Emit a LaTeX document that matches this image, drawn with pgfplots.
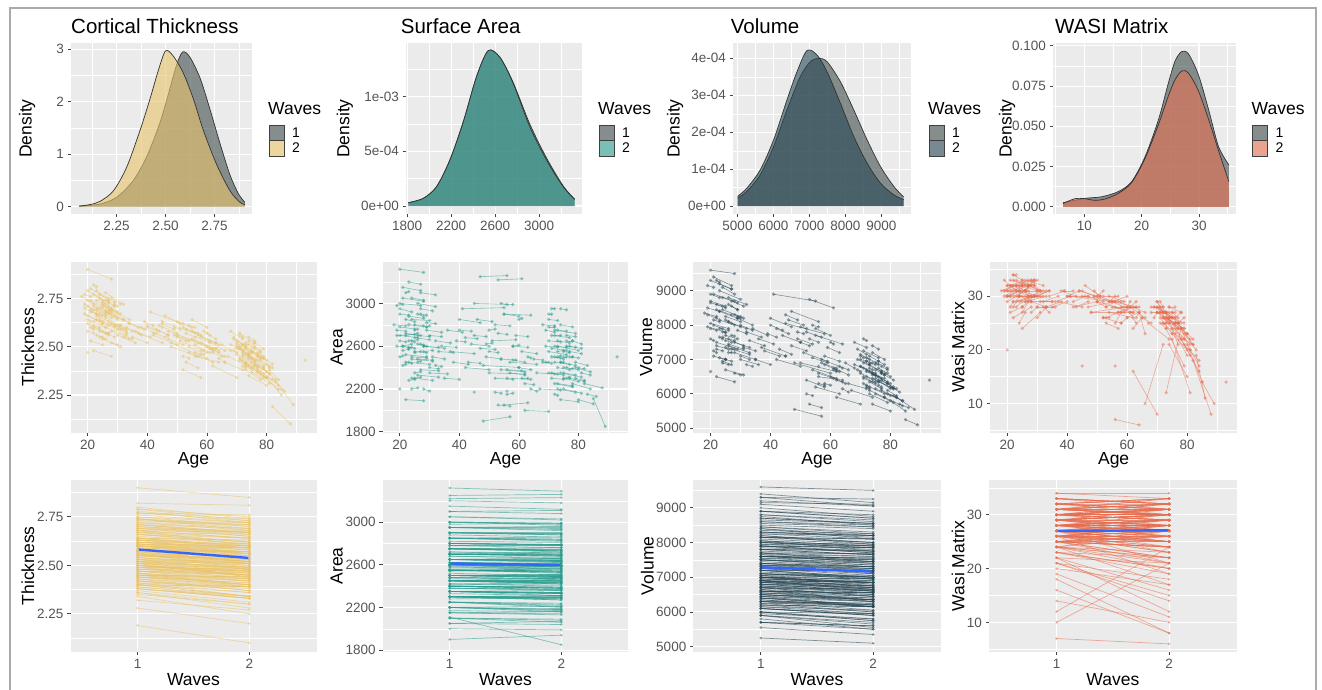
\documentclass[border=0pt]{standalone}
\usepackage{fontspec}
\setmainfont{Liberation Sans}
\usepackage{pgfplots}
\usepackage{pgfplotstable}
\pgfplotsset{compat=1.18}
\definecolor{panelbg}{HTML}{EBEBEB}
\definecolor{ticklab}{HTML}{555555}
\definecolor{tickc}{HTML}{444444}
\definecolor{cgold}{HTML}{E9C46A}
\definecolor{cteal}{HTML}{2A9D8F}
\definecolor{cslate}{HTML}{264653}
\definecolor{ccoral}{HTML}{E76F51}
\definecolor{cgrey}{HTML}{3F4B4B}
\definecolor{cblue}{HTML}{3366FF}
\definecolor{cframe}{HTML}{AAAAAA}

\pgfplotstableread{
a1 a2 t1 t2 s1 s2 v1 v2 w1 w2
19 22 2.72 2.69 2750 2740 8300 8200 31 32
20 23 2.66 2.64 2900 2890 8900 8800 30 31
21 27 2.80 2.74 3150 3120 9400 9150 33 32
22 24 2.61 2.60 2450 2440 7300 7250 28 30
23 26 2.70 2.67 2650 2660 7900 7850 32 31
24 28 2.75 2.70 3050 3030 9100 8900 29 30
25 27 2.58 2.57 2350 2360 7000 6950 27 29
26 30 2.68 2.64 2700 2690 8100 7950 31 33
20 21 2.64 2.63 2500 2510 7600 7550 30 30
22 25 2.77 2.74 2850 2830 8600 8500 34 33
24 26 2.55 2.54 2200 2210 6900 6850 25 27
27 31 2.71 2.67 2950 2930 8700 8550 32 31
28 33 2.62 2.58 2600 2590 7500 7350 29 28
20 28 2.90 2.85 3320 3290 9600 9500 32 33
21 24 2.69 2.66 2600 2620 8000 7900 30 31
23 29 2.74 2.68 2800 2780 8400 8200 33 32
25 29 2.63 2.60 2550 2540 7700 7600 28 30
26 27 2.57 2.57 2450 2460 7200 7200 31 30
29 34 2.66 2.62 2750 2730 8200 8000 30 31
30 33 2.59 2.57 2400 2390 7100 7000 26 28
20 26 2.71 2.66 2700 2680 8050 7900 29 31
22 23 2.82 2.81 3100 3110 9300 9250 34 34
24 25 2.67 2.66 2650 2640 7800 7780 30 32
25 31 2.54 2.50 2300 2280 6700 6550 24 27
27 29 2.73 2.71 2900 2890 8550 8450 32 33
31 35 2.61 2.58 2500 2480 7350 7250 29 29
18 22 2.76 2.72 2800 2790 8350 8250 31 32
23 24 2.64 2.63 2580 2590 7650 7600 30 30
26 32 2.78 2.72 3000 2970 8800 8600 33 32
28 30 2.52 2.51 2200 2180 6600 6550 27 28
21 22 2.60 2.59 2420 2430 7250 7200 28 29
24 30 2.70 2.65 2850 2840 8450 8250 31 31
19 25 2.67 2.62 2700 2710 7950 7800 30 32
32 37 2.64 2.60 2650 2630 7800 7650 29 30
25 26 2.73 2.72 2750 2760 8150 8100 33 32
22 28 2.48 2.45 2100 2090 6500 6350 26 28
27 28 2.69 2.68 2620 2610 7700 7680 31 30
20 24 2.62 2.59 2950 2920 8650 8550 30 31
30 36 2.56 2.52 2350 2340 7000 6850 28 28
23 27 2.79 2.75 3200 3180 9200 9050 32 33
26 31 2.65 2.61 2480 2470 7450 7300 29 31
29 30 2.72 2.71 2780 2790 8250 8200 32 31
33 38 2.60 2.56 2550 2540 7550 7400 28 29
21 28 2.74 2.69 3050 3020 8900 8700 31 32
24 27 2.58 2.56 2300 2310 6950 6850 30 30
19 23 2.70 2.67 2600 2590 8500 8400 31 32
22 26 2.63 2.60 2700 2720 7400 7300 30 31
24 29 2.77 2.73 2500 2490 8800 8650 32 33
26 28 2.69 2.67 2900 2880 7600 7550 30 29
20 22 2.58 2.57 2650 2640 7900 7850 31 31
28 31 2.75 2.72 2550 2560 8300 8200 33 31
23 30 2.66 2.61 2450 2430 9000 8750 29 30
25 28 2.71 2.69 2800 2790 7350 7300 31 32
21 25 2.53 2.51 2600 2580 7100 7000 27 28
27 32 2.68 2.64 3100 3080 8050 7900 32 31
20 25 2.74 2.70 2780 2760 8700 8550 31 32
22 29 2.60 2.55 2520 2500 7500 7300 29 30
25 30 2.72 2.68 2680 2660 8250 8100 32 31
27 33 2.63 2.59 2380 2370 7300 7150 30 31
19 21 2.77 2.76 2980 2990 9150 9100 33 32
23 25 2.56 2.55 2280 2290 7050 7000 28 29
26 29 2.74 2.71 2620 2600 8600 8450 31 33
29 32 2.61 2.59 2820 2810 7850 7750 30 30
21 23 2.68 2.67 2560 2570 8150 8100 32 31
24 31 2.64 2.59 2480 2460 7650 7400 31 30
28 35 2.58 2.54 2600 2580 7200 7000 29 29
22 27 2.71 2.67 2720 2700 8450 8300 33 32
30 34 2.67 2.64 2700 2690 8000 7850 30 31
25 27 2.62 2.61 2540 2550 7550 7500 30 29
20 27 2.79 2.73 3000 2980 9300 9050 32 32
32 34 2.55 2.54 2420 2410 6850 6800 28 27
23 28 2.69 2.65 2880 2860 8150 8000 31 30
26 33 2.60 2.56 2330 2310 7400 7200 29 30
34 39 2.62 2.59 2600 2590 7900 7700 30 31
36 41 2.58 2.55 2750 2730 7600 7450 29 30
38 43 2.60 2.57 2450 2430 7250 7100 31 30
35 40 2.55 2.52 2300 2290 7000 6850 28 29
40 47 2.61 2.56 2850 2820 8200 7950 30 30
37 45 2.57 2.52 2550 2530 7350 7100 29 28
42 50 2.56 2.51 2400 2380 7000 6800 28 29
39 42 2.63 2.61 2650 2640 7750 7650 31 31
41 55 2.68 2.60 2950 2960 8900 8700 30 29
45 49 2.62 2.59 2700 2690 8300 8150 31 30
47 56 2.58 2.53 3250 3260 8400 8100 28 29
50 53 2.55 2.53 2550 2540 7500 7400 29 28
52 57 2.60 2.57 2800 2790 7800 7650 30 30
48 57 2.50 2.45 1900 1940 5550 5350 27 27
53 61 2.57 2.52 3220 3230 8750 8500 26 28
55 60 2.64 2.60 2900 2880 7900 7700 29 30
43 47 2.59 2.56 2450 2440 7300 7150 28 29
57 62 2.52 2.48 2350 2330 6900 6750 27 27
56 58 2.47 2.46 2150 2160 6300 6250 25 27
51 59 2.53 2.48 2650 2660 7200 6950 30 28
60 64 2.50 2.47 2400 2380 6500 6350 26 27
46 51 2.66 2.62 2850 2830 8150 8000 32 30
58 63 2.55 2.52 2600 2590 7100 6950 28 28
54 56 2.61 2.60 3000 2990 8000 7950 29 30
62 65 2.47 2.45 2250 2240 6400 6300 24 26
49 54 2.56 2.53 2500 2480 7600 7450 30 29
53 57 2.42 2.39 2050 2040 5700 5600 25 24
59 63 2.58 2.54 2700 2690 7350 7200 27 29
44 50 2.61 2.57 2620 2600 7700 7500 31 30
56 61 2.51 2.47 2380 2370 6600 6450 28 27
61 63 2.53 2.52 2300 2300 6700 6650 27 25
50 52 2.63 2.62 2750 2760 7950 7900 30 31
52 54 2.45 2.44 2170 2160 6000 5950 26 26
57 66 2.56 2.48 2450 2430 7000 6700 29 27
63 64 2.49 2.48 2500 2490 6800 6750 26 27
48 60 2.52 2.44 2420 2400 6900 6600 27 28
55 63 2.54 2.49 2050 2070 6200 6000 29 28
40 44 2.60 2.58 2750 2740 8000 7850 30 31
58 60 2.48 2.47 2600 2610 6300 6250 25 26
64 66 2.44 2.42 2200 2180 6150 6050 27 23
52 58 2.38 2.34 2300 2290 6400 6200 26 25
60 61 2.57 2.56 2850 2860 7500 7450 28 29
54 59 2.50 2.46 2480 2470 7050 6900 30 29
45 58 2.63 2.56 3000 2990 8050 7750 30 29
55 64 2.58 2.51 2900 2890 7700 7450 28 28
50 62 2.56 2.49 2350 2340 6900 6650 29 27
56 64 2.45 2.42 2300 2290 6500 6400 7 6
42 46 2.57 2.55 2680 2670 7900 7750 29 30
47 52 2.54 2.51 2580 2570 7400 7250 30 29
53 56 2.59 2.57 2720 2710 7600 7500 28 29
58 62 2.52 2.49 2470 2450 6850 6700 27 28
61 66 2.49 2.45 2550 2530 6750 6550 28 26
49 51 2.60 2.59 2620 2630 7800 7750 31 30
54 62 2.47 2.42 2380 2360 6700 6450 27 26
65 68 2.51 2.48 2480 2470 6900 6750 26 25
70 74 2.50 2.45 2650 2640 6800 6600 27 25
72 75 2.46 2.42 2500 2480 6500 6350 26 24
74 78 2.53 2.48 2800 2780 7200 7000 28 27
71 73 2.44 2.41 2350 2340 6300 6200 25 24
73 79 2.40 2.34 2200 2170 6000 5750 24 17
75 77 2.48 2.45 2550 2540 6700 6600 27 26
76 80 2.42 2.37 2400 2380 6400 6150 23 19
69 72 2.55 2.51 2750 2730 7300 7150 28 27
72 76 2.47 2.43 2600 2590 6650 6500 26 25
77 82 2.38 2.33 2300 2270 6100 5900 25 21
70 71 2.51 2.50 2900 2900 7100 7050 29 28
74 75 2.45 2.44 2450 2450 6600 6550 26 26
78 84 2.36 2.28 2250 2200 5900 5650 22 16
71 77 2.49 2.43 2700 2680 6900 6650 27 24
73 74 2.52 2.51 2500 2510 6750 6700 25 26
80 85 2.34 2.25 2100 2060 5800 5500 21 14
68 72 2.58 2.54 2800 2790 7500 7350 28 28
75 79 2.44 2.40 2350 2330 6450 6300 24 22
72 73 2.40 2.39 2150 2140 6200 6150 25 25
76 78 2.50 2.47 2650 2650 6950 6850 26 27
79 83 2.39 2.33 2450 2420 6300 6050 23 20
70 76 2.46 2.40 2550 2520 6600 6350 27 25
74 76 2.55 2.53 2950 2940 7400 7300 28 28
82 88 2.19 2.10 2250 2210 5900 5550 18 8
71 75 2.43 2.39 2300 2290 6500 6300 26 23
77 79 2.47 2.45 2600 2590 6800 6700 25 26
73 77 2.42 2.37 2400 2380 6350 6150 27 21
69 70 2.48 2.47 2450 2450 6700 6650 26 27
75 81 2.37 2.31 2200 2160 6000 5750 22 12
78 80 2.45 2.43 2500 2490 6600 6500 24 23
72 79 2.51 2.44 2750 2720 7050 6750 27 25
80 82 2.41 2.39 2400 2390 6200 6150 23 22
74 80 2.35 2.30 2100 2080 5700 5500 21 15
70 73 2.53 2.50 2850 2840 7150 7000 28 27
76 77 2.40 2.39 2300 2310 6250 6200 25 25
83 86 2.32 2.27 2150 2130 5700 5600 19 11
71 72 2.56 2.55 2950 2950 7600 7550 29 28
73 75 2.49 2.47 2550 2560 6900 6850 26 26
67 74 2.45 2.40 2200 2190 6100 5900 25 22
78 81 2.43 2.40 2650 2620 6550 6400 24 20
85 89 2.28 2.20 2110 1850 5250 5100 14 10
62 70 2.40 2.34 2000 1990 5900 5700 16 8
66 72 2.42 2.38 2350 2340 6300 6150 10 21
73 78 2.38 2.33 2250 2230 6100 5900 12 24
72 74 2.48 2.46 2700 2700 6950 6900 27 26
74 79 2.44 2.39 2450 2420 6550 6350 25 24
70 75 2.52 2.47 2350 2330 6800 6600 28 26
76 81 2.41 2.36 2600 2580 6350 6150 24 21
73 76 2.46 2.43 2750 2740 7100 6950 26 25
71 74 2.50 2.47 2500 2490 6450 6350 27 27
75 80 2.39 2.34 2300 2270 6150 5950 23 20
77 78 2.45 2.44 2500 2500 6600 6550 25 24
69 73 2.54 2.51 2600 2590 7000 6850 28 27
79 84 2.36 2.30 2400 2360 6000 5800 21 18
71 76 2.57 2.52 2580 2560 7250 7050 28 26
73 77 2.50 2.46 2650 2630 6850 6650 27 25
75 78 2.47 2.44 2400 2390 6550 6450 26 25
72 78 2.43 2.37 2250 2220 6250 6000 25 22
77 81 2.40 2.36 2550 2530 6400 6200 24 22
70 72 2.49 2.48 2780 2780 7000 6950 29 27
74 81 2.46 2.39 2350 2310 6450 6150 26 19
76 79 2.52 2.49 2700 2690 6750 6600 25 24
79 82 2.44 2.41 2300 2280 6100 5950 22 21
68 71 2.51 2.49 2450 2440 6850 6750 27 27
73 80 2.41 2.34 2600 2560 6650 6300 26 23
75 76 2.50 2.49 2500 2500 6900 6850 27 27
81 84 2.38 2.33 2350 2330 5950 5800 20 17
72 77 2.45 2.40 2450 2430 6700 6450 26 24
}\subj

\pgfplotstableread{
a t s v w
93 2.43 2500 6400 14
20 2.47 2200 6650 20
45 2.60 2170 7100 17
56 2.55 2180 6800 17
}\single

\pgfplotsset{
 gg/.style={
   scale only axis,
   anchor=south west,
   axis background/.style={fill=panelbg},
   axis line style={draw=none},
   tick pos=left,
   tick align=outside,
   major tick length=3.5pt,
   minor tick length=0pt,
   tick style={color=tickc, line width=0.8pt},
   xmajorgrids, ymajorgrids, xminorgrids, yminorgrids,
   major grid style={white, line width=1.1pt},
   minor grid style={white, line width=0.5pt},
   tick label style={font=\fontsize{13.5}{13.5}\selectfont, text=ticklab},
   label style={font=\fontsize{17.5}{17.5}\selectfont},
   scaled ticks=false,
 },
 dfill/.style={fill=#1, fill opacity=0.6, draw=none, smooth},
 dline/.style={draw=black!80, line width=0.7pt, smooth},
 rowtwo/.style={xmin=14.25, xmax=96.75, height=171pt,
   xtick={20,40,60,80}, xticklabels={20,40,60,80}, minor xtick={30,50,70,90},
   xlabel={Age}, xlabel style={at={(rel axis cs:0.5,-0.16)}, anchor=center}},
 rowthree/.style={xmin=0.4, xmax=2.6, height=171.7pt,
   xtick={1,2}, xticklabels={1,2}, minor xtick={},
   xlabel={Waves}, xlabel style={at={(rel axis cs:0.5,-0.165)}, anchor=center}},
 pts/.style={only marks, mark=*, mark size=1.8pt, mark options={draw opacity=0, fill=#1, fill opacity=0.5}},
 segs/.style={draw=#1, opacity=0.55, line width=0.6pt},
 spag/.style={draw=#1, opacity=0.55, line width=0.7pt},
}

\newcommand{\wavelegend}[2]{%
  \node[anchor=base west, inner sep=0pt, font=\fontsize{17.5}{17.5}\selectfont] at (268+#1, 574) {Waves};
  \fill[white!95!black] (269+#1,533) rectangle (284+#1,564);
  \filldraw[fill=cgrey, fill opacity=0.6, draw=black!75, line width=0.6pt] (269+#1,549) rectangle (284+#1,564);
  \filldraw[fill=#2, fill opacity=0.6, draw=black!75, line width=0.6pt] (269+#1,533) rectangle (284+#1,549);
  \node[anchor=center, inner sep=0pt, font=\fontsize{14}{14}\selectfont] at (296+#1, 556.5) {1};
  \node[anchor=center, inner sep=0pt, font=\fontsize{14}{14}\selectfont] at (296+#1, 541) {2};
}

\begin{document}
\begin{tikzpicture}[x=1pt,y=1pt]

% ---------- Row 1: densities ----------
\begin{axis}[gg, at={(71pt,475pt)}, width=181pt, height=171pt,
  xmin=2.018, xmax=2.942, ymin=-0.14, ymax=3.12,
  xtick={2.25,2.5,2.75}, xticklabels={2.25,2.50,2.75}, minor xtick={2.125,2.375,2.625,2.875},
  ytick={0,1,2,3}, yticklabels={0,1,2,3}, minor ytick={0.5,1.5,2.5},
  ylabel={Density}, ylabel style={at={(rel axis cs:-0.243,0.5)}, anchor=center}]
\addplot[dfill=cgrey] coordinates {(2.059,0.01) (2.166,0.05) (2.251,0.18) (2.336,0.50) (2.404,0.95) (2.472,1.60) (2.523,2.25) (2.557,2.70) (2.588,2.95) (2.625,2.85) (2.677,2.45) (2.728,1.85) (2.779,1.20) (2.830,0.60) (2.872,0.25) (2.906,0.08)} \closedcycle;
\addplot[dline] coordinates {(2.059,0.01) (2.166,0.05) (2.251,0.18) (2.336,0.50) (2.404,0.95) (2.472,1.60) (2.523,2.25) (2.557,2.70) (2.588,2.95) (2.625,2.85) (2.677,2.45) (2.728,1.85) (2.779,1.20) (2.830,0.60) (2.872,0.25) (2.906,0.08)};
\addplot[dfill=cgold] coordinates {(2.059,0.01) (2.115,0.04) (2.166,0.10) (2.234,0.30) (2.302,0.75) (2.370,1.45) (2.421,2.05) (2.464,2.60) (2.501,2.97) (2.540,2.87) (2.591,2.55) (2.643,2.05) (2.694,1.45) (2.762,0.80) (2.830,0.30) (2.881,0.08) (2.906,0.04)} \closedcycle;
\addplot[dline] coordinates {(2.059,0.01) (2.115,0.04) (2.166,0.10) (2.234,0.30) (2.302,0.75) (2.370,1.45) (2.421,2.05) (2.464,2.60) (2.501,2.97) (2.540,2.87) (2.591,2.55) (2.643,2.05) (2.694,1.45) (2.762,0.80) (2.830,0.30) (2.881,0.08) (2.906,0.04)};
\end{axis}

\begin{axis}[gg, at={(406pt,475pt)}, width=176pt, height=171pt,
  xmin=1790, xmax=3390, ymin=-0.000073, ymax=0.00149,
  xtick={1800,2200,2600,3000}, xticklabels={1800,2200,2600,3000}, minor xtick={2000,2400,2800,3200},
  ytick={0,0.0005,0.001}, yticklabels={0e+00,5e-04,1e-03}, minor ytick={0.00025,0.00075,0.00125},
  ylabel={Density}, ylabel style={at={(rel axis cs:-0.347,0.5)}, anchor=center}]
\addplot[dfill=cgrey] coordinates {(1811,0.00003) (1947,0.00007) (2068,0.000177) (2189,0.000421) (2310,0.00076) (2431,0.00118) (2537,0.001415) (2643,0.00136) (2764,0.00113) (2915,0.00075) (3067,0.00044) (3218,0.000185) (3324,0.000061)} \closedcycle;
\addplot[dline] coordinates {(1811,0.00003) (1947,0.00007) (2068,0.000177) (2189,0.000421) (2310,0.00076) (2431,0.00118) (2537,0.001415) (2643,0.00136) (2764,0.00113) (2915,0.00075) (3067,0.00044) (3218,0.000185) (3324,0.000061)};
\addplot[dfill=cteal] coordinates {(1811,0.00003) (1947,0.00007) (2068,0.000177) (2189,0.000421) (2310,0.000771) (2431,0.001183) (2537,0.001421) (2643,0.00136) (2764,0.001122) (2915,0.000726) (3067,0.000421) (3218,0.000177) (3324,0.000061)} \closedcycle;
\addplot[dline] coordinates {(1811,0.00003) (1947,0.00007) (2068,0.000177) (2189,0.000421) (2310,0.000771) (2431,0.001183) (2537,0.001421) (2643,0.00136) (2764,0.001122) (2915,0.000726) (3067,0.000421) (3218,0.000177) (3324,0.000061)};
\end{axis}

\begin{axis}[gg, at={(733pt,475pt)}, width=178pt, height=171pt,
  xmin=4875, xmax=9825, ymin=-0.000021, ymax=0.0004415,
  xtick={5000,6000,7000,8000,9000}, xticklabels={5000,6000,7000,8000,9000}, minor xtick={5500,6500,7500,8500,9500},
  ytick={0,0.0001,0.0002,0.0003,0.0004}, yticklabels={0e+00,1e-04,2e-04,3e-04,4e-04}, minor ytick={0.00005,0.00015,0.00025,0.00035},
  ylabel={Density}, ylabel style={at={(rel axis cs:-0.326,0.5)}, anchor=center}]
\addplot[dfill=cgrey] coordinates {(5005,0.0000225) (5264,0.0000405) (5635,0.0000854) (6006,0.000162) (6377,0.000261) (6748,0.000351) (7026,0.000391) (7257,0.0004) (7489,0.000391) (7860,0.000337) (8231,0.000261) (8602,0.00018) (8972,0.000108) (9343,0.000054) (9621,0.000025)} \closedcycle;
\addplot[dline] coordinates {(5005,0.0000225) (5264,0.0000405) (5635,0.0000854) (6006,0.000162) (6377,0.000261) (6748,0.000351) (7026,0.000391) (7257,0.0004) (7489,0.000391) (7860,0.000337) (8231,0.000261) (8602,0.00018) (8972,0.000108) (9343,0.000054) (9621,0.000025)};
\addplot[dfill=cslate] coordinates {(5005,0.000027) (5264,0.0000494) (5635,0.0000989) (6006,0.00018) (6377,0.000288) (6655,0.000364) (6933,0.000421) (7211,0.000409) (7489,0.000364) (7860,0.000279) (8231,0.000189) (8602,0.000117) (8972,0.000063) (9343,0.000031) (9621,0.000018)} \closedcycle;
\addplot[dline] coordinates {(5005,0.000027) (5264,0.0000494) (5635,0.0000989) (6006,0.00018) (6377,0.000288) (6655,0.000364) (6933,0.000421) (7211,0.000409) (7489,0.000364) (7860,0.000279) (8231,0.000189) (8602,0.000117) (8972,0.000063) (9343,0.000031) (9621,0.000018)};
\end{axis}

\begin{axis}[gg, at={(1053pt,475pt)}, width=183pt, height=171pt,
  xmin=4.55, xmax=36.45, ymin=-0.0045, ymax=0.1018,
  xtick={10,20,30}, xticklabels={10,20,30}, minor xtick={5,15,25,35},
  ytick={0,0.025,0.05,0.075,0.1}, yticklabels={0.000,0.025,0.050,0.075,0.100}, minor ytick={0.0125,0.0375,0.0625,0.0875},
  ylabel={Density}, ylabel style={at={(rel axis cs:-0.251,0.5)}, anchor=center}]
\addplot[dfill=cgrey] coordinates {(6.30,0.0025) (10.09,0.0052) (13.0,0.0062) (15.92,0.0094) (18.25,0.0156) (20.58,0.031) (22.92,0.054) (24.67,0.077) (25.83,0.0906) (27.0,0.0965) (28.17,0.095) (29.9,0.082) (31.7,0.060) (33.4,0.0375) (35.2,0.026)} \closedcycle;
\addplot[dline] coordinates {(6.30,0.0025) (10.09,0.0052) (13.0,0.0062) (15.92,0.0094) (18.25,0.0156) (20.58,0.031) (22.92,0.054) (24.67,0.077) (25.83,0.0906) (27.0,0.0965) (28.17,0.095) (29.9,0.082) (31.7,0.060) (33.4,0.0375) (35.2,0.026)};
\addplot[dfill=ccoral] coordinates {(6.30,0.002) (8.34,0.005) (10.09,0.005) (11.84,0.004) (13.59,0.0048) (15.92,0.0083) (18.25,0.015) (20.58,0.030) (22.92,0.051) (24.67,0.069) (25.83,0.079) (27.0,0.0844) (28.17,0.083) (29.9,0.072) (31.7,0.054) (33.4,0.035) (35.2,0.0156)} \closedcycle;
\addplot[dline] coordinates {(6.30,0.002) (8.34,0.005) (10.09,0.005) (11.84,0.004) (13.59,0.0048) (15.92,0.0083) (18.25,0.015) (20.58,0.030) (22.92,0.051) (24.67,0.069) (25.83,0.079) (27.0,0.0844) (28.17,0.083) (29.9,0.072) (31.7,0.054) (33.4,0.035) (35.2,0.0156)};
\end{axis}

% ---------- Row 2: trajectories by age ----------
\begin{axis}[gg, rowtwo, at={(70.5pt,256.3pt)}, width=246pt,
  ymin=2.055, ymax=2.94, ytick={2.25,2.5,2.75}, yticklabels={2.25,2.50,2.75}, minor ytick={2.125,2.375,2.625,2.875},
  ylabel={Thickness}, ylabel style={at={(rel axis cs:-0.173,0.5)}, anchor=center}]
\addplot[segs=cgold, quiver={u=\thisrow{a2}-\thisrow{a1}, v=\thisrow{t2}-\thisrow{t1}}] table[x=a1,y=t1]{\subj};
\addplot[pts=cgold] table[x=a1,y=t1]{\subj};
\addplot[pts=cgold] table[x=a2,y=t2]{\subj};
\addplot[pts=cgold] table[x=a,y=t]{\single};
\end{axis}

\begin{axis}[gg, rowtwo, at={(382.7pt,256.3pt)}, width=245.6pt,
  ymin=1791, ymax=3390, ytick={1800,2200,2600,3000}, yticklabels={1800,2200,2600,3000}, minor ytick={2000,2400,2800,3200},
  ylabel={Area}, ylabel style={at={(rel axis cs:-0.187,0.5)}, anchor=center}]
\addplot[segs=cteal, quiver={u=\thisrow{a2}-\thisrow{a1}, v=\thisrow{s2}-\thisrow{s1}}] table[x=a1,y=s1]{\subj};
\addplot[pts=cteal] table[x=a1,y=s1]{\subj};
\addplot[pts=cteal] table[x=a2,y=s2]{\subj};
\addplot[pts=cteal] table[x=a,y=s]{\single};
\end{axis}

\begin{axis}[gg, rowtwo, at={(693.3pt,256.3pt)}, width=247.4pt,
  ymin=4870, ymax=9845, ytick={5000,6000,7000,8000,9000}, yticklabels={5000,6000,7000,8000,9000}, minor ytick={5500,6500,7500,8500,9500},
  ylabel={Volume}, ylabel style={at={(rel axis cs:-0.192,0.5)}, anchor=center}]
\addplot[segs=cslate, quiver={u=\thisrow{a2}-\thisrow{a1}, v=\thisrow{v2}-\thisrow{v1}}] table[x=a1,y=v1]{\subj};
\addplot[pts=cslate] table[x=a1,y=v1]{\subj};
\addplot[pts=cslate] table[x=a2,y=v2]{\subj};
\addplot[pts=cslate] table[x=a,y=v]{\single};
\end{axis}

\begin{axis}[gg, rowtwo, at={(990pt,256.3pt)}, width=247.3pt,
  ymin=4.55, ymax=36.45, ytick={10,20,30}, yticklabels={10,20,30}, minor ytick={5,15,25,35},
  ylabel={Wasi Matrix}, ylabel style={at={(rel axis cs:-0.129,0.5)}, anchor=center}]
\addplot[segs=ccoral, quiver={u=\thisrow{a2}-\thisrow{a1}, v=\thisrow{w2}-\thisrow{w1}}] table[x=a1,y=w1]{\subj};
\addplot[pts=ccoral] table[x=a1,y=w1]{\subj};
\addplot[pts=ccoral] table[x=a2,y=w2]{\subj};
\addplot[pts=ccoral] table[x=a,y=w]{\single};
\end{axis}

% ---------- Row 3: spaghetti by wave ----------
\begin{axis}[gg, rowthree, at={(70.5pt,37.3pt)}, width=246pt,
  ymin=2.055, ymax=2.94, ytick={2.25,2.5,2.75}, yticklabels={2.25,2.50,2.75}, minor ytick={2.125,2.375,2.625,2.875},
  ylabel={Thickness}, ylabel style={at={(rel axis cs:-0.173,0.5)}, anchor=center}]
\addplot[spag=cgold, quiver={u=1, v=\thisrow{t2}-\thisrow{t1}}] table[x expr=1,y=t1]{\subj};
\addplot[pts=cgold, mark size=1.4pt] table[x expr=1,y=t1]{\subj};
\addplot[pts=cgold, mark size=1.4pt] table[x expr=2,y=t2]{\subj};
\addplot[cblue, line width=2.4pt] coordinates {(1,2.582) (2,2.538)};
\end{axis}

\begin{axis}[gg, rowthree, at={(382.7pt,37.3pt)}, width=245.6pt,
  ymin=1785, ymax=3395, ytick={1800,2200,2600,3000}, yticklabels={1800,2200,2600,3000}, minor ytick={2000,2400,2800,3200},
  ylabel={Area}, ylabel style={at={(rel axis cs:-0.187,0.5)}, anchor=center}]
\addplot[spag=cteal, quiver={u=1, v=\thisrow{s2}-\thisrow{s1}}] table[x expr=1,y=s1]{\subj};
\addplot[pts=cteal, mark size=1.4pt] table[x expr=1,y=s1]{\subj};
\addplot[pts=cteal, mark size=1.4pt] table[x expr=2,y=s2]{\subj};
\addplot[cblue, line width=2.4pt] coordinates {(1,2612) (2,2598)};
\end{axis}

\begin{axis}[gg, rowthree, at={(693.3pt,37.3pt)}, width=247.4pt,
  ymin=4855, ymax=9800, ytick={5000,6000,7000,8000,9000}, yticklabels={5000,6000,7000,8000,9000}, minor ytick={5500,6500,7500,8500,9500},
  ylabel={Volume}, ylabel style={at={(rel axis cs:-0.186,0.5)}, anchor=center}]
\addplot[spag=cslate, quiver={u=1, v=\thisrow{v2}-\thisrow{v1}}] table[x expr=1,y=v1]{\subj};
\addplot[pts=cslate, mark size=1.4pt] table[x expr=1,y=v1]{\subj};
\addplot[pts=cslate, mark size=1.4pt] table[x expr=2,y=v2]{\subj};
\addplot[cblue, line width=2.4pt] coordinates {(1,7285) (2,7160)};
\end{axis}

\begin{axis}[gg, rowthree, at={(989pt,37.3pt)}, width=247.7pt,
  ymin=4.55, ymax=36.45, ytick={10,20,30}, yticklabels={10,20,30}, minor ytick={5,15,25,35},
  ylabel={Wasi Matrix}, ylabel style={at={(rel axis cs:-0.125,0.5)}, anchor=center}]
\addplot[spag=ccoral, quiver={u=1, v=\thisrow{w2}-\thisrow{w1}}] table[x expr=1,y=w1]{\subj};
\addplot[pts=ccoral, mark size=1.4pt] table[x expr=1,y=w1]{\subj};
\addplot[pts=ccoral, mark size=1.4pt] table[x expr=2,y=w2]{\subj};
\addplot[cblue, line width=2.4pt] coordinates {(1,27.0) (2,27.1)};
\end{axis}

% ---------- titles ----------
\node[anchor=base west, inner sep=0pt, font=\fontsize{20.5}{20.5}\selectfont] at (71,655.7) {Cortical Thickness};
\node[anchor=base west, inner sep=0pt, font=\fontsize{20.5}{20.5}\selectfont] at (400.7,655.7) {Surface Area};
\node[anchor=base west, inner sep=0pt, font=\fontsize{20.5}{20.5}\selectfont] at (730.7,655.7) {Volume};
\node[anchor=base west, inner sep=0pt, font=\fontsize{20.5}{20.5}\selectfont] at (1055,655.7) {WASI Matrix};

% ---------- legends ----------
\wavelegend{0}{cgold}
\wavelegend{330}{cteal}
\wavelegend{660}{cslate}
\wavelegend{983.5}{ccoral}

% ---------- frame ----------
\draw[cframe, line width=1.5pt] (10,-5) -- (10,681) -- (1316,681) -- (1316,-5);

\pgfresetboundingbox
\path[use as bounding box] (0,0) rectangle (1322,689);
\end{tikzpicture}
\end{document}
